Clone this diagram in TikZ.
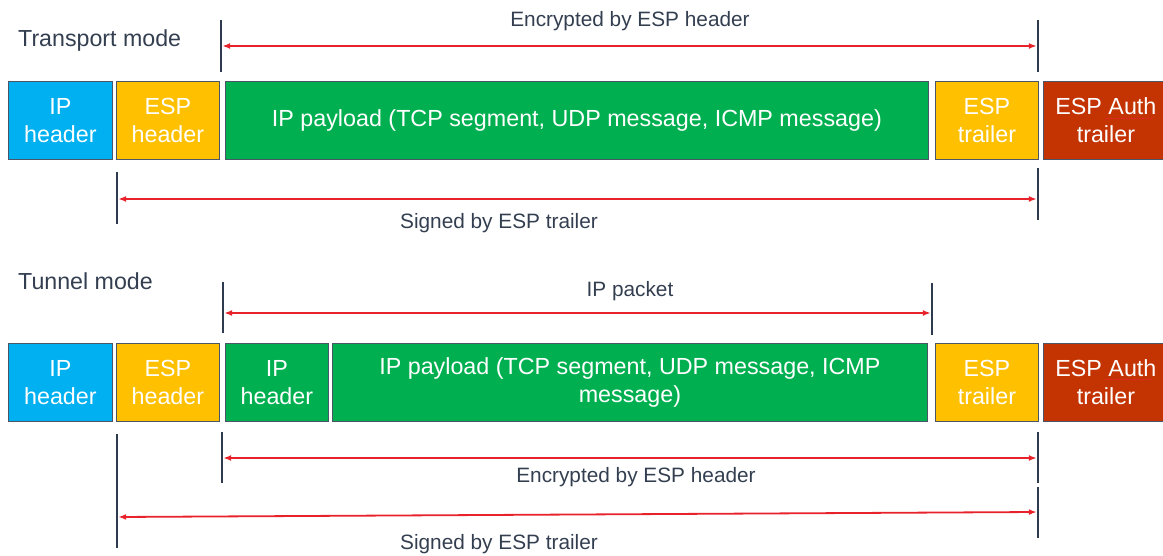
\documentclass[tikz,border=0pt]{standalone}
\usepackage{fontspec}
\setmainfont{Liberation Sans}
\usetikzlibrary{arrows.meta,decorations.pathmorphing}
\definecolor{cblue}{HTML}{00B0F0}
\definecolor{cyellow}{HTML}{FFC000}
\definecolor{cgreen}{HTML}{00B050}
\definecolor{cbrown}{HTML}{C43302}
\definecolor{cedge}{HTML}{4A5568}
\definecolor{cbar}{HTML}{2E3A4E}
\definecolor{carrow}{HTML}{E8222A}
\definecolor{ctext}{HTML}{333F50}
\tikzset{
  box/.style={draw=cedge, line width=0.8pt, text=white, align=center, inner sep=0pt,
    anchor=north west, minimum height=78pt, font=\fontsize{23.3}{27.5}\selectfont},
  bar/.style={draw=cbar, line width=2.2pt},
  arr/.style={draw=carrow, line width=1.8pt, {Latex[length=8pt,width=6pt]}-{Latex[length=8pt,width=6pt]}},
  lbl/.style={text=ctext, inner sep=0pt, font=\fontsize{20.8}{22}\selectfont},
  title/.style={text=ctext, inner sep=0pt, anchor=west, font=\fontsize{23.2}{25}\selectfont},
  squig/.style={draw=carrow, line width=0.6pt, densely dotted}
}
\begin{document}
\begin{tikzpicture}[x=1pt,y=-1pt]
\useasboundingbox (0,0) rectangle (1163,556);
% ---------- Transport mode ----------
\node[title] (t1) at (18,41) {Transport mode};
\node[box, fill=cblue,   minimum width=104pt] (a1) at (8,81) {IP\\header};
\node[box, fill=cyellow, minimum width=103pt] (b1) at (116,81) {ESP\\header};
\node[box, fill=cgreen,  minimum width=703pt] (c1) at (225,81) {IP payload (TCP segment, UDP message, ICMP message)};
\node[box, fill=cyellow, minimum width=103pt] (d1) at (935,81) {ESP\\trailer};
\node[box, fill=cbrown,  minimum width=125pt] (e1) at (1043,81) {ESP Auth\\trailer};
\draw[squig] (1105,118) -- (1153,118);
% top bars
\coordinate (p1t) at (221,20); \coordinate (p1b) at (221,72);
\coordinate (q1t) at (1038,20); \coordinate (q1b) at (1038,72);
\draw[bar] (p1t) -- (p1b);
\draw[bar] (q1t) -- (q1b);
\coordinate (p1a) at (222.2,46); \coordinate (q1a) at (1036.8,46);
\draw[arr] (p1a) -- (q1a);
\node[lbl] (l1) at (630,21) {Encrypted by ESP header};
% bottom bars
\coordinate (r1t) at (117,172); \coordinate (r1b) at (117,224);
\coordinate (s1t) at (1038,168); \coordinate (s1b) at (1038,220);
\draw[bar] (r1t) -- (r1b);
\draw[bar] (s1t) -- (s1b);
\coordinate (r1a) at (118.2,199); \coordinate (s1a) at (1036.8,199);
\draw[arr] (r1a) -- (s1a);
\node[lbl] (l2) at (499,223) {Signed by ESP trailer};
% ---------- Tunnel mode ----------
\node[title] (t2) at (18,281) {Tunnel mode};
\node[box, fill=cblue,   minimum width=104pt] (a2) at (8,343) {IP\\header};
\node[box, fill=cyellow, minimum width=103pt] (b2) at (116,343) {ESP\\header};
\node[box, fill=cgreen,  minimum width=103pt] (c2) at (225,343) {IP\\header};
\node[box, fill=cgreen,  minimum width=595pt] (f2) at (332,343) {IP payload (TCP segment, UDP message, ICMP\\message)};
\node[box, fill=cyellow, minimum width=103pt] (d2) at (935,343) {ESP\\trailer};
\node[box, fill=cbrown,  minimum width=125pt] (e2) at (1043,343) {ESP Auth\\trailer};
\draw[squig] (1105,379) -- (1153,379);
% top bars
\coordinate (p2t) at (223,282); \coordinate (p2b) at (223,333);
\coordinate (q2t) at (932,283); \coordinate (q2b) at (932,335);
\draw[bar] (p2t) -- (p2b);
\draw[bar] (q2t) -- (q2b);
\coordinate (p2a) at (224.2,313); \coordinate (q2a) at (930.8,313);
\draw[arr] (p2a) -- (q2a);
\node[lbl] (l3) at (630,291) {IP packet};
% bottom bars
\coordinate (u2t) at (222,432); \coordinate (u2b) at (222,483);
\coordinate (v2t) at (1038,432); \coordinate (v2b) at (1038,483);
\coordinate (w2t) at (117,434); \coordinate (w2b) at (117,548);
\coordinate (z2t) at (1038,487); \coordinate (z2b) at (1038,538);
\draw[bar] (u2t) -- (u2b);
\draw[bar] (v2t) -- (v2b);
\draw[bar] (w2t) -- (w2b);
\draw[bar] (z2t) -- (z2b);
\coordinate (u2a) at (223.2,458); \coordinate (v2a) at (1036.8,458);
\draw[arr] (u2a) -- (v2a);
\node[lbl] (l4) at (636,477) {Encrypted by ESP header};
\coordinate (w2a) at (118.2,517); \coordinate (z2a) at (1036.8,512);
\draw[arr] (w2a) -- (z2a);
\node[lbl] (l5) at (499,544) {Signed by ESP trailer};
\end{tikzpicture}
\end{document}
